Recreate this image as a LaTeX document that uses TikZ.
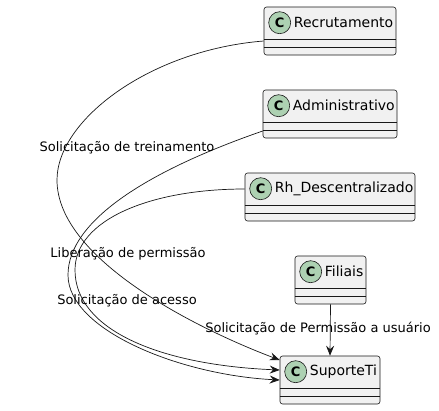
\documentclass[tikz,border=0pt]{standalone}
\usepackage{fontspec}
\setmainfont{DejaVu Sans}
\usetikzlibrary{arrows.meta}
\definecolor{clsfill}{HTML}{F1F1F1}
\definecolor{clsdraw}{HTML}{181818}
\definecolor{circfill}{HTML}{ADD1B2}
\tikzset{
  clsbox/.style={draw=clsdraw, fill=clsfill, rounded corners=2.5pt, line width=0.6pt, minimum height=48pt, inner sep=0pt},
  clsline/.style={draw=clsdraw, line width=0.6pt},
  clscirc/.style={circle, draw=clsdraw, fill=circfill, line width=0.6pt, minimum size=22pt, inner sep=0pt, font=\fontsize{13}{13}\selectfont\bfseries},
  clstext/.style={anchor=west, inner sep=0pt, font=\fontsize{14}{14}\selectfont},
  lbl/.style={inner sep=0pt, font=\fontsize{13}{13}\selectfont},
  conn/.style={draw=clsdraw, line width=0.7pt, -{Stealth[length=10pt,width=8pt,inset=3.5pt]}},
}
\newcommand\umlcls[5]{%
  \node[clsbox, minimum width=#4pt] (#1) at (#2,#3) {};
  \draw[clsline] ([yshift=-33pt]#1.north west) -- ([yshift=-33pt]#1.north east);
  \draw[clsline] ([yshift=-41pt]#1.north west) -- ([yshift=-41pt]#1.north east);
  \node[clscirc] (#1c) at ([xshift=16pt,yshift=-16pt]#1.north west) {C};
  \node[clstext] (#1t) at ([xshift=30pt,yshift=-16pt]#1.north west) {#5};
}
\begin{document}
\begin{tikzpicture}[x=1pt,y=-1pt]
\useasboundingbox (0,0) rectangle (439,410);
\umlcls{recr}{330}{31}{132}{Recrutamento}
\umlcls{adm}{330}{114}{134}{Administrativo}
\umlcls{rh}{330}{197}{170}{Rh\_Descentralizado}
\umlcls{fil}{330.5}{280}{71}{Filiais}
\umlcls{sup}{330}{380}{100}{SuporteTi}

\draw[conn] ([yshift=-10pt]recr.west) .. controls (150,50) and (57,120) .. (57,180)
  .. controls (57,260) and (200,330) .. ([yshift=20pt]sup.west);
\draw[conn] ([yshift=-17pt]adm.west) .. controls (150,170) and (68,220) .. (68,275)
  .. controls (68,330) and (180,375) .. (sup.west);
\draw[conn] ([yshift=8pt]rh.west) .. controls (150,189) and (75,220) .. (75,270)
  .. controls (75,330) and (160,365) .. ([yshift=10pt]sup.west);
\draw[conn] (fil.south) -- (sup.north);

\node[lbl] (l1) at (127,148) {Solicitação de treinamento};
\node[lbl] (l2) at (128,254) {Liberação de permissão};
\node[lbl] (l3) at (127,301) {Solicitação de acesso};
\node[lbl] (l4) at (318,329) {Solicitação de Permissão a usuário};
\end{tikzpicture}
\end{document}
